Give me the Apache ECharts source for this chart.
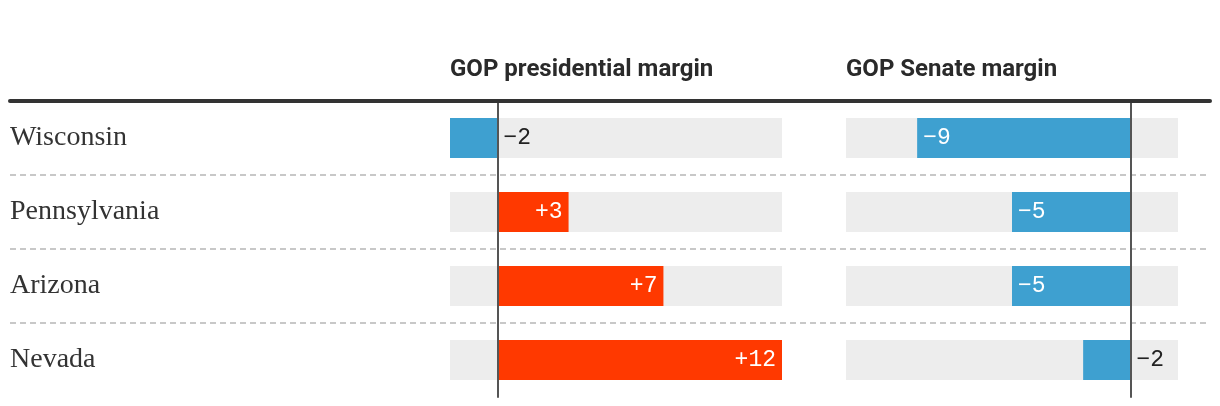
<!DOCTYPE html>
<html>
<head>
<meta charset="utf-8">
<script src="https://cdn.jsdelivr.net/npm/echarts@6/dist/echarts.min.js"></script>
<style>
html,body{margin:0;padding:0;background:#fff;}
#chart{width:1220px;height:406px;}
</style>
</head>
<body>
<div id="chart"></div>
<script>
const states = ['Wisconsin', 'Pennsylvania', 'Arizona', 'Nevada'];
const presMargin = [-2, 3, 7, 12];
const senateMargin = [-9, -5, -5, -2];
const panelTitles = ['GOP presidential margin', 'GOP Senate margin'];
const presRange = [-2, 12];
const senateRange = [-12, 2];

const RED = '#ff3900';
const BLUE = '#3ea0d0';

function fmt(v) {
  return v > 0 ? '+' + v : '\u2212' + Math.abs(v);
}
function toItems(arr) {
  return arr.map(v => {
    const inside = Math.abs(v) >= 3;
    return {
      value: v,
      itemStyle: { color: v >= 0 ? RED : BLUE },
      label: inside
        ? { position: v > 0 ? 'insideRight' : 'insideLeft', color: '#ffffff' }
        : { position: 'right', color: '#222222' }
    };
  });
}

const chart = echarts.init(document.getElementById('chart'), null, { renderer: 'canvas' });

const titleStyle = { fontFamily: 'Roboto', fontWeight: 700, fontSize: 24, color: '#2a2a2a' };
const labelStyle = {
  show: true,
  fontFamily: '"Liberation Mono", "DejaVu Sans Mono", monospace',
  fontSize: 23,
  distance: 6,
  formatter: p => fmt(p.value)
};

const panelY = (gi) => ({
  type: 'category', gridIndex: gi, data: states, inverse: true, z: 10,
  axisLine: { show: true, onZero: true, lineStyle: { color: '#555555', width: 2 } },
  axisTick: { show: false }, axisLabel: { show: false }, splitLine: { show: false }
});
const panelX = (gi, r) => ({
  type: 'value', gridIndex: gi, min: r[0], max: r[1],
  axisLine: { show: false }, axisTick: { show: false }, axisLabel: { show: false }, splitLine: { show: false }
});

chart.setOption({
  animation: false,
  backgroundColor: '#ffffff',
  title: [
    { text: panelTitles[0], left: 450, top: 58, padding: 0, textStyle: titleStyle },
    { text: panelTitles[1], left: 846, top: 58, padding: 0, textStyle: titleStyle }
  ],
  grid: [
    { left: 10, top: 101, width: 1200, height: 296 },
    { left: 450, top: 101, width: 332, height: 296 },
    { left: 846, top: 101, width: 332, height: 296 }
  ],
  xAxis: [
    { type: 'value', gridIndex: 0, min: 0, max: 1, position: 'top', z: 20,
      axisLine: { show: true, onZero: false, lineStyle: { color: '#333333', width: 4 } },
      axisTick: { show: false }, axisLabel: { show: false }, splitLine: { show: false } },
    panelX(1, presRange),
    panelX(2, senateRange)
  ],
  yAxis: [
    { type: 'category', gridIndex: 0, data: states, inverse: true,
      axisLine: { show: false }, axisTick: { show: false },
      axisLabel: { inside: true, margin: 0, fontFamily: '"Liberation Serif", serif', fontSize: 28,
        color: '#333333', padding: [6, 0, 0, 0] },
      splitLine: { show: true, showMinLine: false, showMaxLine: false,
        lineStyle: { color: '#c8c8c8', width: 2, type: [6, 4] } } },
    panelY(1),
    panelY(2)
  ],
  series: [
    { type: 'bar', xAxisIndex: 1, yAxisIndex: 1, barWidth: 40, data: toItems(presMargin),
      showBackground: true, backgroundStyle: { color: '#ededed' }, label: labelStyle },
    { type: 'bar', xAxisIndex: 2, yAxisIndex: 2, barWidth: 40, data: toItems(senateMargin),
      showBackground: true, backgroundStyle: { color: '#ededed' }, label: labelStyle }
  ]
});
</script>
</body>
</html>
